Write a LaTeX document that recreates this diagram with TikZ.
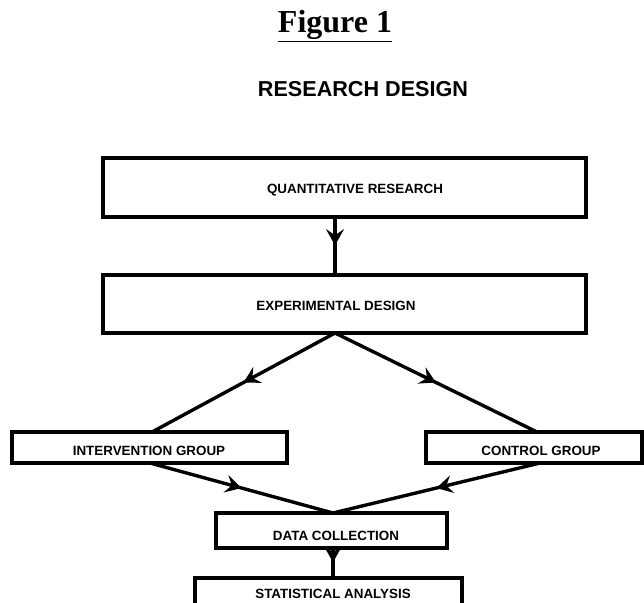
\documentclass[tikz,border=0pt]{standalone}
\usepackage{fontspec}
\setmainfont{Liberation Serif}
\newfontfamily\arialf{Liberation Sans}
\usetikzlibrary{arrows.meta,decorations.markings}
\tikzset{
  box/.style={draw, line width=3.2pt, rectangle, inner sep=0pt},
  lbl/.style={inner sep=0pt, font=\arialf\bfseries\fontsize{13.4}{15}\selectfont},
  conn/.style={line width=3.4pt},
  midarr/.style={decoration={markings, mark=at position 0.5 with {\arrow{Stealth[length=16pt,width=18pt,inset=6pt]}}}, postaction={decorate}},
}
\begin{document}
\begin{tikzpicture}[x=1pt,y=-1pt]
\useasboundingbox (0,0) rectangle (644,602);
\clip (0,0) rectangle (644,602);
\node[anchor=base, font=\bfseries\fontsize{32}{36}\selectfont] (fig) at (335,33) {\underline{Figure 1}};
\node[anchor=base, font=\arialf\bfseries\fontsize{21.6}{24}\selectfont] (title) at (363,96) {RESEARCH DESIGN};
% boxes
\node[box, minimum width=483pt, minimum height=59pt] (qr) at (344.5,187.5) {};
\node[box, minimum width=483pt, minimum height=58pt] (ed) at (344.5,304) {};
\node[box, minimum width=275pt, minimum height=31pt] (ig) at (149.5,447.5) {};
\node[box, minimum width=216pt, minimum height=31pt] (cg) at (534,447.5) {};
\node[box, minimum width=231pt, minimum height=35pt] (dc) at (331.5,530.5) {};
\node[box, minimum width=267pt, minimum height=36pt] (sa) at (328.5,596) {};
% labels
\node[lbl] (qrt) at (355,190) {QUANTITATIVE RESEARCH};
\node[lbl] (edt) at (336,306) {EXPERIMENTAL DESIGN};
\node[lbl] (igt0) at (149,451) {INTERVENTION GROUP};
\node[lbl] (cgt0) at (541,451) {CONTROL GROUP};
\node[lbl] (dct0) at (336,536) {DATA COLLECTION};
\node[lbl] (sat) at (333,594) {STATISTICAL ANALYSIS};
% attachment points
\coordinate (qa) at (335,217);
\coordinate (eb) at (335,333);
\coordinate (igt) at (152,432);
\coordinate (cgt) at (537,432);
\coordinate (igb) at (150,463);
\coordinate (cgb) at (540,463);
\coordinate (dct) at (333,513);
\coordinate (dcb) at (333,548);
\draw[conn, midarr] (qa) -- (qa |- ed.north);
\draw[conn, midarr] (eb) -- (igt);
\draw[conn, midarr] (eb) -- (cgt);
\draw[conn, midarr] (igb) -- (dct);
\draw[conn, midarr] (cgb) -- (dct);
\draw[conn, midarr] (dcb) -- (dcb |- sa.north);
\end{tikzpicture}
\end{document}
